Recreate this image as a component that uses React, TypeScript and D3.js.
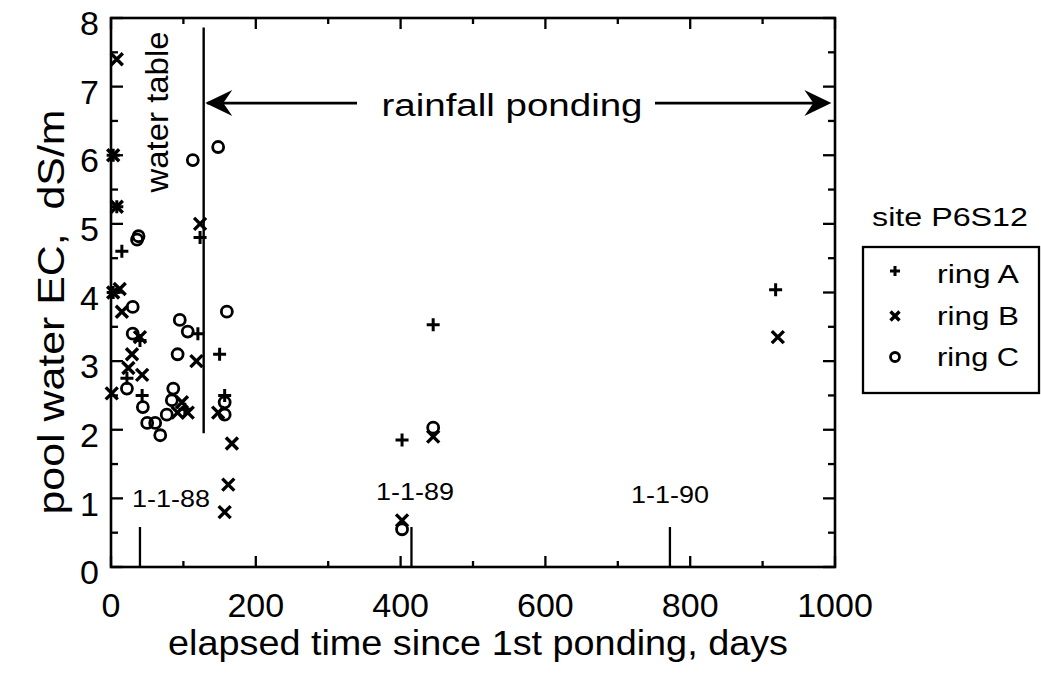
import React from "react";
import * as d3 from "d3";

// ---- data (day, EC dS/m) ----
const ringA: [number, number][] = [
  [3, 6.0], [8, 5.25], [15, 4.6], [3, 4.0], [123, 4.8], [120, 3.4], [40, 3.3],
  [43, 2.5], [22, 2.75], [150, 3.1], [157, 2.5], [102, 2.3], [445, 3.53], [402, 1.85], [918, 4.04],
];
const ringB: [number, number][] = [
  [3, 6.0], [8, 7.4], [8, 5.25], [3, 4.0], [12, 4.05], [15, 3.72], [40, 3.35], [29, 3.1],
  [24, 2.9], [43, 2.8], [1, 2.53], [123, 5.0], [118, 3.0], [98, 2.4], [106, 2.25], [92, 2.25],
  [148, 2.25], [167, 1.8], [162, 1.2], [157, 0.8], [402, 0.68], [445, 1.9], [921, 3.35],
];
const ringC: [number, number][] = [
  [36, 4.77], [38, 4.82], [148, 6.12], [113, 5.93], [30, 3.79], [160, 3.72], [95, 3.6],
  [106, 3.43], [30, 3.4], [92, 3.1], [22, 2.6], [44, 2.33], [86, 2.6], [84, 2.43], [77, 2.22],
  [50, 2.1], [61, 2.1], [68, 1.92], [157, 2.4], [157, 2.22], [445, 2.03], [402, 0.55],
];
const xTickLabels = [0, 200, 400, 600, 800, 1000];
const xMinorTicks = [100, 300, 500, 700, 900];
const yTickLabels = [0, 1, 2, 3, 4, 5, 6, 7, 8];
const yMinorTicks = [0.5, 1.5, 2.5, 3.5, 4.5, 5.5, 6.5, 7.5];
const dateMarkers: { day: number; label: string; lx: number; ly: number }[] = [
  { day: 40, label: "1-1-88", lx: 171, ly: 507 },
  { day: 415, label: "1-1-89", lx: 415, ly: 500 },
  { day: 772, label: "1-1-90", lx: 670, ly: 503 },
];
const waterTableDay = 128;
const waterTableRange: [number, number] = [1.95, 7.86];
const arrowRange: [number, number] = [133, 995];
const arrowValue = 6.76;

const FONT = "'Liberation Sans', Arial, Helvetica, sans-serif";

const x = d3.scaleLinear().domain([0, 1000]).range([111, 835]);
const y = d3.scaleLinear().domain([0, 8]).range([567, 18]);

function Plus({ cx, cy, s = 6.5 }: { cx: number; cy: number; s?: number }) {
  return (
    <path d={`M${cx - s},${cy}H${cx + s}M${cx},${cy - s}V${cy + s}`} stroke="#000" strokeWidth={3} fill="none" />
  );
}
function Cross({ cx, cy, s = 6 }: { cx: number; cy: number; s?: number }) {
  return (
    <path d={`M${cx - s},${cy - s}L${cx + s},${cy + s}M${cx - s},${cy + s}L${cx + s},${cy - s}`} stroke="#000" strokeWidth={3.4} fill="none" />
  );
}
function Circ({ cx, cy, r = 5.5 }: { cx: number; cy: number; r?: number }) {
  return <circle cx={cx} cy={cy} r={r} stroke="#000" strokeWidth={2.8} fill="none" />;
}

function arrowHead(tipX: number, tipY: number, dir: number) {
  const L = 27, H = 13, notch = 18;
  const bx = tipX - dir * L;
  const nx = tipX - dir * notch;
  return `M${tipX},${tipY}L${bx},${tipY - H}L${nx},${tipY}L${bx},${tipY + H}Z`;
}

export default function App() {
  const x0 = x(0), x1 = x(1000), y0 = y(0), y1 = y(8);
  const ay = y(arrowValue);
  const axL = x(arrowRange[0]);
  const axR = x(arrowRange[1]);
  return (
    <svg width={1041} height={675} style={{ position: "absolute", left: 0, top: 0, background: "#fff" }} fontFamily={FONT}>
      <rect x={0} y={0} width={1041} height={675} fill="#fff" />
      <rect x={x0} y={y1} width={x1 - x0} height={y0 - y1} fill="none" stroke="#000" strokeWidth={2.6} />
      {xTickLabels.map((t) => (
        <g key={"xt" + t}>
          <line x1={x(t)} x2={x(t)} y1={y0} y2={y0 - 11} stroke="#000" strokeWidth={2.3} />
          <line x1={x(t)} x2={x(t)} y1={y1} y2={y1 + 11} stroke="#000" strokeWidth={2.3} />
          <text x={x(t)} y={617} fontSize={34} textAnchor="middle">{t}</text>
        </g>
      ))}
      {xMinorTicks.map((t) => (
        <g key={"xm" + t}>
          <line x1={x(t)} x2={x(t)} y1={y0} y2={y0 - 6} stroke="#000" strokeWidth={2.3} />
          <line x1={x(t)} x2={x(t)} y1={y1} y2={y1 + 6} stroke="#000" strokeWidth={2.3} />
        </g>
      ))}
      {yTickLabels.map((t) => (
        <g key={"yt" + t}>
          <line x1={x0} x2={x0 + 12} y1={y(t)} y2={y(t)} stroke="#000" strokeWidth={2.3} />
          <line x1={x1} x2={x1 - 12} y1={y(t)} y2={y(t)} stroke="#000" strokeWidth={2.3} />
          <text x={99} y={y(t) + 5} dy="0.36em" fontSize={34} textAnchor="end">{t}</text>
        </g>
      ))}
      {yMinorTicks.map((t) => (
        <g key={"ym" + t}>
          <line x1={x0} x2={x0 + 7} y1={y(t)} y2={y(t)} stroke="#000" strokeWidth={2.3} />
          <line x1={x1} x2={x1 - 7} y1={y(t)} y2={y(t)} stroke="#000" strokeWidth={2.3} />
        </g>
      ))}
      {dateMarkers.map((m) => (
        <g key={m.label}>
          <line x1={x(m.day)} x2={x(m.day)} y1={y0} y2={y0 - 40} stroke="#000" strokeWidth={2.3} />
          <text x={m.lx} y={m.ly} fontSize={24} textAnchor="middle" textLength={78} lengthAdjust="spacingAndGlyphs">{m.label}</text>
        </g>
      ))}
      <line x1={x(waterTableDay)} x2={x(waterTableDay)} y1={y(waterTableRange[1])} y2={y(waterTableRange[0])} stroke="#000" strokeWidth={2.4} />
      <text transform={`translate(168,112) rotate(-90)`} fontSize={31} textAnchor="middle" textLength={161} lengthAdjust="spacingAndGlyphs">water table</text>
      <line x1={axL} x2={357} y1={ay} y2={ay} stroke="#000" strokeWidth={2.8} />
      <line x1={655} x2={axR - 5} y1={ay} y2={ay} stroke="#000" strokeWidth={2.8} />
      <path d={arrowHead(x(arrowRange[0]) - 2, ay, -1)} fill="#000" />
      <path d={arrowHead(axR, ay, 1)} fill="#000" />
      <text x={512} y={116} fontSize={31} textAnchor="middle" textLength={261} lengthAdjust="spacingAndGlyphs">rainfall ponding</text>
      {ringC.map(([d, v], i) => <Circ key={"c" + i} cx={x(d)} cy={y(v)} />)}
      {ringB.map(([d, v], i) => <Cross key={"b" + i} cx={x(d)} cy={y(v)} />)}
      {ringA.map(([d, v], i) => <Plus key={"a" + i} cx={x(d)} cy={y(v)} />)}
      <text x={478} y={655} fontSize={35} textAnchor="middle" textLength={620} lengthAdjust="spacingAndGlyphs">elapsed time since 1st ponding, days</text>
      <text transform={`translate(64,312) rotate(-90)`} fontSize={36} textAnchor="middle" textLength={405} lengthAdjust="spacingAndGlyphs" style={{ whiteSpace: "pre" }}>pool water EC,  dS/m</text>
      <text x={950} y={226} fontSize={25} textAnchor="middle" textLength={156} lengthAdjust="spacingAndGlyphs">site P6S12</text>
      <rect x={863} y={247} width={176} height={146} fill="none" stroke="#000" strokeWidth={2.3} />
      <Plus cx={895} cy={271} s={5} />
      <text x={937} y={283} fontSize={26} textLength={82} lengthAdjust="spacingAndGlyphs">ring A</text>
      <Cross cx={895} cy={316} s={4.5} />
      <text x={937} y={325} fontSize={26} textLength={82} lengthAdjust="spacingAndGlyphs">ring B</text>
      <Circ cx={895} cy={357} r={4.5} />
      <text x={937} y={366} fontSize={26} textLength={82} lengthAdjust="spacingAndGlyphs">ring C</text>
    </svg>
  );
}
